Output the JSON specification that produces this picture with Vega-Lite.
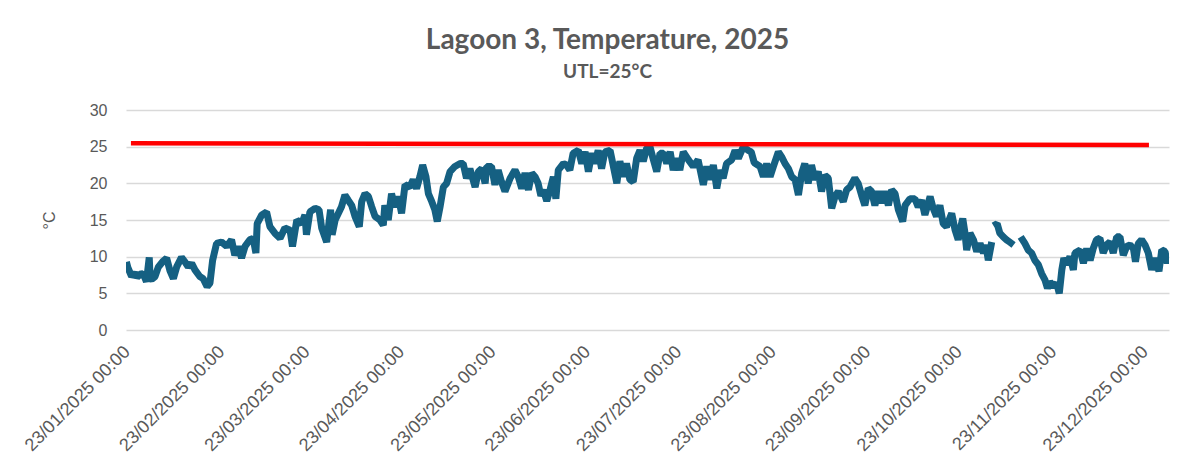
{
"$schema": "https://vega.github.io/schema/vega-lite/v6.json",
"width": 1043,
"height": 220,
"autosize": {"type": "none"},
"padding": {"left": 126, "top": 110, "right": 34, "bottom": 142},
"background": "white",
"config": {"view": {"stroke": null}, "font": "Liberation Sans"},
"title": {"text": "Lagoon 3, Temperature, 2025", "subtitle": "UTL=25°C", "anchor": "middle", "frame": "group", "dx": -40, "offset": 20, "font": "Lato", "fontSize": 28, "fontWeight": "bold", "color": "#595959", "subtitleFont": "Lato", "subtitleFontSize": 19, "subtitleFontWeight": "bold", "subtitleColor": "#595959", "subtitlePadding": 8},
"datasets": {
"temp": [
{"time":"2025-01-21T12:00","temp":9.3,"seg":1},{"time":"2025-01-22T00:00","temp":8.5,"seg":1},{"time":"2025-01-23T05:00","temp":7.3,"seg":1},{"time":"2025-01-24T07:00","temp":7.8,"seg":1},{"time":"2025-01-25T00:00","temp":7.2,"seg":1},{"time":"2025-01-26T00:00","temp":7.6,"seg":1},{"time":"2025-01-27T00:00","temp":7.7,"seg":1},{"time":"2025-01-28T02:00","temp":6.6,"seg":1},{"time":"2025-01-29T00:00","temp":9.9,"seg":1},{"time":"2025-01-29T07:00","temp":7.0,"seg":1},{"time":"2025-01-29T19:00","temp":6.9,"seg":1},{"time":"2025-01-30T22:00","temp":7.3,"seg":1},
{"time":"2025-02-01T00:00","temp":8.6,"seg":1},{"time":"2025-02-02T14:00","temp":9.4,"seg":1},{"time":"2025-02-03T17:00","temp":9.8,"seg":1},{"time":"2025-02-04T19:00","temp":8.1,"seg":1},{"time":"2025-02-05T22:00","temp":7.0,"seg":1},{"time":"2025-02-07T00:00","temp":8.6,"seg":1},{"time":"2025-02-08T14:00","temp":9.9,"seg":1},{"time":"2025-02-09T17:00","temp":9.3,"seg":1},{"time":"2025-02-10T19:00","temp":8.6,"seg":1},{"time":"2025-02-11T22:00","temp":9.1,"seg":1},{"time":"2025-02-13T00:00","temp":8.2,"seg":1},{"time":"2025-02-14T14:00","temp":7.3,"seg":1},{"time":"2025-02-15T17:00","temp":7.0,"seg":1},{"time":"2025-02-17T00:00","temp":5.9,"seg":1},{"time":"2025-02-17T22:00","temp":6.4,"seg":1},{"time":"2025-02-18T19:00","temp":9.5,"seg":1},{"time":"2025-02-20T02:00","temp":11.8,"seg":1},{"time":"2025-02-21T17:00","temp":12.0,"seg":1},{"time":"2025-02-23T10:00","temp":11.4,"seg":1},{"time":"2025-02-25T00:00","temp":12.3,"seg":1},{"time":"2025-02-26T02:00","temp":10.2,"seg":1},{"time":"2025-02-27T05:00","temp":11.4,"seg":1},{"time":"2025-02-28T07:00","temp":9.8,"seg":1},
{"time":"2025-03-01T10:00","temp":11.4,"seg":1},{"time":"2025-03-03T00:00","temp":12.3,"seg":1},{"time":"2025-03-04T02:00","temp":12.5,"seg":1},{"time":"2025-03-05T00:00","temp":10.5,"seg":1},{"time":"2025-03-05T10:00","temp":14.5,"seg":1},{"time":"2025-03-06T22:00","temp":15.7,"seg":1},{"time":"2025-03-08T12:00","temp":16.1,"seg":1},{"time":"2025-03-09T14:00","temp":14.1,"seg":1},{"time":"2025-03-11T05:00","temp":13.2,"seg":1},{"time":"2025-03-12T22:00","temp":12.5,"seg":1},{"time":"2025-03-14T12:00","temp":13.9,"seg":1},{"time":"2025-03-16T05:00","temp":13.6,"seg":1},{"time":"2025-03-17T00:00","temp":11.4,"seg":1},{"time":"2025-03-18T10:00","temp":15.0,"seg":1},{"time":"2025-03-20T00:00","temp":14.5,"seg":1},{"time":"2025-03-21T02:00","temp":15.7,"seg":1},{"time":"2025-03-21T14:00","temp":13.0,"seg":1},{"time":"2025-03-22T17:00","temp":16.1,"seg":1},{"time":"2025-03-24T10:00","temp":16.6,"seg":1},{"time":"2025-03-25T17:00","temp":16.4,"seg":1},{"time":"2025-03-26T14:00","temp":13.9,"seg":1},{"time":"2025-03-28T05:00","temp":12.0,"seg":1},{"time":"2025-03-29T12:00","temp":16.4,"seg":1},{"time":"2025-03-30T00:00","temp":13.0,"seg":1},{"time":"2025-03-31T00:00","temp":15.0,"seg":1},
{"time":"2025-04-02T02:00","temp":16.8,"seg":1},{"time":"2025-04-03T05:00","temp":18.4,"seg":1},{"time":"2025-04-04T07:00","temp":17.7,"seg":1},{"time":"2025-04-05T10:00","temp":17.0,"seg":1},{"time":"2025-04-06T12:00","temp":15.5,"seg":1},{"time":"2025-04-07T22:00","temp":14.1,"seg":1},{"time":"2025-04-08T17:00","temp":17.5,"seg":1},{"time":"2025-04-09T19:00","temp":18.6,"seg":1},{"time":"2025-04-10T22:00","temp":18.2,"seg":1},{"time":"2025-04-12T00:00","temp":16.8,"seg":1},{"time":"2025-04-13T02:00","temp":15.5,"seg":1},{"time":"2025-04-14T17:00","temp":15.0,"seg":1},{"time":"2025-04-15T19:00","temp":14.3,"seg":1},{"time":"2025-04-16T07:00","temp":17.0,"seg":1},{"time":"2025-04-17T10:00","temp":15.0,"seg":1},{"time":"2025-04-18T12:00","temp":18.6,"seg":1},{"time":"2025-04-19T14:00","temp":16.8,"seg":1},{"time":"2025-04-20T17:00","temp":18.2,"seg":1},{"time":"2025-04-21T19:00","temp":15.9,"seg":1},{"time":"2025-04-22T22:00","temp":19.8,"seg":1},{"time":"2025-04-24T12:00","temp":19.5,"seg":1},{"time":"2025-04-25T14:00","temp":20.5,"seg":1},{"time":"2025-04-26T17:00","temp":19.3,"seg":1},{"time":"2025-04-27T19:00","temp":20.9,"seg":1},{"time":"2025-04-28T17:00","temp":22.5,"seg":1},{"time":"2025-04-29T19:00","temp":20.9,"seg":1},{"time":"2025-04-30T14:00","temp":18.6,"seg":1},
{"time":"2025-05-01T17:00","temp":17.5,"seg":1},{"time":"2025-05-02T17:00","temp":16.4,"seg":1},{"time":"2025-05-03T12:00","temp":14.8,"seg":1},{"time":"2025-05-04T10:00","temp":16.8,"seg":1},{"time":"2025-05-05T12:00","temp":19.5,"seg":1},{"time":"2025-05-06T14:00","temp":20.0,"seg":1},{"time":"2025-05-07T17:00","temp":21.6,"seg":1},{"time":"2025-05-09T07:00","temp":22.3,"seg":1},{"time":"2025-05-11T00:00","temp":22.7,"seg":1},{"time":"2025-05-12T00:00","temp":22.7,"seg":1},{"time":"2025-05-13T02:00","temp":20.7,"seg":1},{"time":"2025-05-14T05:00","temp":22.0,"seg":1},{"time":"2025-05-15T22:00","temp":19.5,"seg":1},{"time":"2025-05-17T00:00","temp":21.6,"seg":1},{"time":"2025-05-18T02:00","temp":22.0,"seg":1},{"time":"2025-05-19T05:00","temp":20.0,"seg":1},{"time":"2025-05-19T17:00","temp":22.3,"seg":1},{"time":"2025-05-21T07:00","temp":22.3,"seg":1},{"time":"2025-05-22T10:00","temp":19.8,"seg":1},{"time":"2025-05-23T12:00","temp":21.8,"seg":1},{"time":"2025-05-24T14:00","temp":20.2,"seg":1},{"time":"2025-05-25T17:00","temp":18.9,"seg":1},{"time":"2025-05-27T10:00","temp":20.7,"seg":1},{"time":"2025-05-29T00:00","temp":21.8,"seg":1},{"time":"2025-05-30T02:00","temp":20.9,"seg":1},{"time":"2025-05-31T05:00","temp":19.3,"seg":1},
{"time":"2025-06-01T07:00","temp":21.4,"seg":1},{"time":"2025-06-02T10:00","temp":19.1,"seg":1},{"time":"2025-06-03T12:00","temp":21.4,"seg":1},{"time":"2025-06-04T14:00","temp":20.9,"seg":1},{"time":"2025-06-05T14:00","temp":20.0,"seg":1},{"time":"2025-06-06T12:00","temp":18.3,"seg":1},{"time":"2025-06-07T07:00","temp":19.1,"seg":1},{"time":"2025-06-08T10:00","temp":17.6,"seg":1},{"time":"2025-06-09T12:00","temp":19.1,"seg":1},{"time":"2025-06-10T14:00","temp":20.9,"seg":1},{"time":"2025-06-11T10:00","temp":17.9,"seg":1},{"time":"2025-06-12T05:00","temp":21.8,"seg":1},{"time":"2025-06-13T22:00","temp":22.7,"seg":1},{"time":"2025-06-14T22:00","temp":22.5,"seg":1},{"time":"2025-06-16T00:00","temp":21.8,"seg":1},{"time":"2025-06-17T02:00","temp":24.1,"seg":1},{"time":"2025-06-18T19:00","temp":24.5,"seg":1},{"time":"2025-06-19T22:00","temp":22.7,"seg":1},{"time":"2025-06-21T00:00","temp":24.3,"seg":1},{"time":"2025-06-22T02:00","temp":21.6,"seg":1},{"time":"2025-06-23T05:00","temp":24.1,"seg":1},{"time":"2025-06-24T05:00","temp":22.7,"seg":1},{"time":"2025-06-25T07:00","temp":24.5,"seg":1},{"time":"2025-06-26T10:00","temp":22.0,"seg":1},{"time":"2025-06-27T12:00","temp":24.3,"seg":1},{"time":"2025-06-29T05:00","temp":24.5,"seg":1},{"time":"2025-06-30T07:00","temp":22.3,"seg":1},
{"time":"2025-07-01T10:00","temp":20.0,"seg":1},{"time":"2025-07-02T10:00","temp":23.0,"seg":1},{"time":"2025-07-03T12:00","temp":20.9,"seg":1},{"time":"2025-07-04T14:00","temp":22.7,"seg":1},{"time":"2025-07-05T17:00","temp":20.5,"seg":1},{"time":"2025-07-06T19:00","temp":20.2,"seg":1},{"time":"2025-07-07T22:00","temp":23.4,"seg":1},{"time":"2025-07-09T00:00","temp":24.5,"seg":1},{"time":"2025-07-10T02:00","temp":23.0,"seg":1},{"time":"2025-07-11T05:00","temp":24.8,"seg":1},{"time":"2025-07-12T07:00","temp":25.0,"seg":1},{"time":"2025-07-13T10:00","temp":23.2,"seg":1},{"time":"2025-07-14T12:00","temp":21.6,"seg":1},{"time":"2025-07-15T14:00","temp":24.1,"seg":1},{"time":"2025-07-16T17:00","temp":24.1,"seg":1},{"time":"2025-07-17T19:00","temp":22.7,"seg":1},{"time":"2025-07-18T22:00","temp":24.3,"seg":1},{"time":"2025-07-19T22:00","temp":21.8,"seg":1},{"time":"2025-07-21T00:00","temp":23.4,"seg":1},{"time":"2025-07-22T02:00","temp":21.8,"seg":1},{"time":"2025-07-23T05:00","temp":24.3,"seg":1},{"time":"2025-07-24T22:00","temp":23.2,"seg":1},{"time":"2025-07-26T12:00","temp":22.3,"seg":1},{"time":"2025-07-28T02:00","temp":23.2,"seg":1},{"time":"2025-07-29T19:00","temp":19.8,"seg":1},{"time":"2025-07-30T22:00","temp":22.3,"seg":1},
{"time":"2025-08-01T00:00","temp":20.5,"seg":1},{"time":"2025-08-02T02:00","temp":22.5,"seg":1},{"time":"2025-08-03T05:00","temp":19.3,"seg":1},{"time":"2025-08-04T07:00","temp":21.8,"seg":1},{"time":"2025-08-05T07:00","temp":20.7,"seg":1},{"time":"2025-08-06T10:00","temp":22.7,"seg":1},{"time":"2025-08-08T02:00","temp":23.2,"seg":1},{"time":"2025-08-09T05:00","temp":24.5,"seg":1},{"time":"2025-08-10T07:00","temp":23.4,"seg":1},{"time":"2025-08-11T22:00","temp":25.0,"seg":1},{"time":"2025-08-13T12:00","temp":24.5,"seg":1},{"time":"2025-08-14T12:00","temp":24.3,"seg":1},{"time":"2025-08-15T12:00","temp":22.8,"seg":1},{"time":"2025-08-17T10:00","temp":22.3,"seg":1},{"time":"2025-08-18T12:00","temp":20.9,"seg":1},{"time":"2025-08-19T14:00","temp":22.7,"seg":1},{"time":"2025-08-20T17:00","temp":20.9,"seg":1},{"time":"2025-08-21T19:00","temp":22.3,"seg":1},{"time":"2025-08-23T10:00","temp":24.3,"seg":1},{"time":"2025-08-24T12:00","temp":23.6,"seg":1},{"time":"2025-08-25T14:00","temp":22.7,"seg":1},{"time":"2025-08-26T17:00","temp":22.0,"seg":1},{"time":"2025-08-27T19:00","temp":20.9,"seg":1},{"time":"2025-08-28T22:00","temp":20.5,"seg":1},{"time":"2025-08-30T00:00","temp":18.4,"seg":1},{"time":"2025-08-31T02:00","temp":21.4,"seg":1},
{"time":"2025-09-01T02:00","temp":22.7,"seg":1},{"time":"2025-09-02T05:00","temp":20.0,"seg":1},{"time":"2025-09-03T07:00","temp":22.5,"seg":1},{"time":"2025-09-04T10:00","temp":20.5,"seg":1},{"time":"2025-09-05T12:00","temp":21.6,"seg":1},{"time":"2025-09-06T14:00","temp":18.9,"seg":1},{"time":"2025-09-07T17:00","temp":21.1,"seg":1},{"time":"2025-09-08T19:00","temp":20.7,"seg":1},{"time":"2025-09-09T22:00","temp":16.6,"seg":1},{"time":"2025-09-11T00:00","temp":18.2,"seg":1},{"time":"2025-09-12T02:00","temp":18.9,"seg":1},{"time":"2025-09-13T17:00","temp":17.5,"seg":1},{"time":"2025-09-14T19:00","temp":19.1,"seg":1},{"time":"2025-09-15T22:00","temp":19.5,"seg":1},{"time":"2025-09-17T12:00","temp":20.7,"seg":1},{"time":"2025-09-18T14:00","temp":20.0,"seg":1},{"time":"2025-09-19T17:00","temp":18.4,"seg":1},{"time":"2025-09-20T19:00","temp":17.0,"seg":1},{"time":"2025-09-21T22:00","temp":19.3,"seg":1},{"time":"2025-09-23T00:00","temp":18.9,"seg":1},{"time":"2025-09-24T02:00","temp":17.0,"seg":1},{"time":"2025-09-25T05:00","temp":18.9,"seg":1},{"time":"2025-09-26T07:00","temp":17.3,"seg":1},{"time":"2025-09-27T10:00","temp":18.9,"seg":1},{"time":"2025-09-28T12:00","temp":17.0,"seg":1},{"time":"2025-09-29T14:00","temp":19.1,"seg":1},{"time":"2025-09-30T17:00","temp":18.6,"seg":1},
{"time":"2025-10-01T19:00","temp":16.4,"seg":1},{"time":"2025-10-03T05:00","temp":14.8,"seg":1},{"time":"2025-10-04T00:00","temp":17.0,"seg":1},{"time":"2025-10-05T14:00","temp":17.9,"seg":1},{"time":"2025-10-07T05:00","temp":17.9,"seg":1},{"time":"2025-10-08T07:00","temp":16.8,"seg":1},{"time":"2025-10-09T10:00","temp":17.7,"seg":1},{"time":"2025-10-10T12:00","temp":15.7,"seg":1},{"time":"2025-10-12T05:00","temp":18.2,"seg":1},{"time":"2025-10-13T05:00","temp":16.6,"seg":1},{"time":"2025-10-14T07:00","temp":15.5,"seg":1},{"time":"2025-10-15T10:00","temp":17.0,"seg":1},{"time":"2025-10-16T12:00","temp":14.5,"seg":1},{"time":"2025-10-17T14:00","temp":14.1,"seg":1},{"time":"2025-10-19T07:00","temp":15.9,"seg":1},{"time":"2025-10-20T10:00","temp":13.6,"seg":1},{"time":"2025-10-21T10:00","temp":12.3,"seg":1},{"time":"2025-10-22T00:00","temp":13.6,"seg":1},{"time":"2025-10-22T22:00","temp":15.2,"seg":1},{"time":"2025-10-23T14:00","temp":13.4,"seg":1},{"time":"2025-10-24T05:00","temp":10.9,"seg":1},{"time":"2025-10-25T07:00","temp":13.2,"seg":1},{"time":"2025-10-26T10:00","temp":12.3,"seg":1},{"time":"2025-10-27T12:00","temp":10.7,"seg":1},{"time":"2025-10-28T14:00","temp":11.8,"seg":1},{"time":"2025-10-29T17:00","temp":10.5,"seg":1},{"time":"2025-10-30T12:00","temp":11.6,"seg":1},{"time":"2025-10-31T07:00","temp":9.5,"seg":1},{"time":"2025-11-01T10:00","temp":12.0,"seg":1},
{"time":"2025-11-02T00:00","temp":14.2,"seg":2},{"time":"2025-11-03T05:00","temp":14.5,"seg":2},{"time":"2025-11-04T02:00","temp":13.2,"seg":2},{"time":"2025-11-05T05:00","temp":12.7,"seg":2},{"time":"2025-11-06T07:00","temp":12.3,"seg":2},{"time":"2025-11-07T07:00","temp":12.0,"seg":2},{"time":"2025-11-08T14:00","temp":11.6,"seg":2},
{"time":"2025-11-10T22:00","temp":12.7,"seg":3},{"time":"2025-11-12T07:00","temp":11.8,"seg":3},{"time":"2025-11-13T10:00","temp":10.9,"seg":3},{"time":"2025-11-14T12:00","temp":10.5,"seg":3},{"time":"2025-11-15T14:00","temp":9.5,"seg":3},{"time":"2025-11-16T17:00","temp":8.9,"seg":3},{"time":"2025-11-17T19:00","temp":7.7,"seg":3},{"time":"2025-11-18T22:00","temp":6.8,"seg":3},{"time":"2025-11-19T17:00","temp":5.7,"seg":3},{"time":"2025-11-20T12:00","temp":6.6,"seg":3},{"time":"2025-11-21T14:00","temp":5.9,"seg":3},{"time":"2025-11-22T17:00","temp":6.4,"seg":3},{"time":"2025-11-23T14:00","temp":5.0,"seg":3},{"time":"2025-11-24T10:00","temp":8.2,"seg":3},{"time":"2025-11-25T02:00","temp":9.8,"seg":3},{"time":"2025-11-26T00:00","temp":8.9,"seg":3},{"time":"2025-11-27T02:00","temp":10.0,"seg":3},{"time":"2025-11-28T05:00","temp":8.2,"seg":3},{"time":"2025-11-28T17:00","temp":10.5,"seg":3},{"time":"2025-11-30T10:00","temp":10.9,"seg":3},
{"time":"2025-12-01T12:00","temp":9.1,"seg":3},{"time":"2025-12-02T14:00","temp":11.1,"seg":3},{"time":"2025-12-03T17:00","temp":9.5,"seg":3},{"time":"2025-12-04T17:00","temp":11.1,"seg":3},{"time":"2025-12-05T19:00","temp":12.3,"seg":3},{"time":"2025-12-06T22:00","temp":12.5,"seg":3},{"time":"2025-12-08T00:00","temp":10.5,"seg":3},{"time":"2025-12-09T02:00","temp":11.6,"seg":3},{"time":"2025-12-10T05:00","temp":12.0,"seg":3},{"time":"2025-12-11T07:00","temp":10.5,"seg":3},{"time":"2025-12-12T10:00","temp":12.7,"seg":3},{"time":"2025-12-13T12:00","temp":12.7,"seg":3},{"time":"2025-12-14T14:00","temp":10.2,"seg":3},{"time":"2025-12-15T17:00","temp":11.4,"seg":3},{"time":"2025-12-16T19:00","temp":11.6,"seg":3},{"time":"2025-12-17T22:00","temp":11.1,"seg":3},{"time":"2025-12-18T14:00","temp":9.3,"seg":3},{"time":"2025-12-19T12:00","temp":11.8,"seg":3},{"time":"2025-12-20T14:00","temp":12.3,"seg":3},{"time":"2025-12-21T17:00","temp":11.6,"seg":3},{"time":"2025-12-22T19:00","temp":10.5,"seg":3},{"time":"2025-12-23T22:00","temp":8.2,"seg":3},{"time":"2025-12-25T00:00","temp":9.8,"seg":3},{"time":"2025-12-26T07:00","temp":8.0,"seg":3},{"time":"2025-12-27T05:00","temp":10.9,"seg":3},{"time":"2025-12-28T07:00","temp":10.7,"seg":3},{"time":"2025-12-29T00:00","temp":9.1,"seg":3},{"time":"2025-12-29T13:00","temp":10.2,"seg":3}
],
"utl": [
{"time":"2025-01-23T00:00","temp":25.45},{"time":"2025-12-23T00:00","temp":25.23}
]
},
"encoding": {
"x": {"field": "time", "type": "temporal",
"scale": {"domain": [{"year":2025,"month":1,"date":21,"hours":9},{"year":2025,"month":12,"date":29,"hours":14}]},
"axis": {"values": [{"year":2025,"month":1,"date":23},{"year":2025,"month":2,"date":23},{"year":2025,"month":3,"date":23},{"year":2025,"month":4,"date":23},{"year":2025,"month":5,"date":23},{"year":2025,"month":6,"date":23},{"year":2025,"month":7,"date":23},{"year":2025,"month":8,"date":23},{"year":2025,"month":9,"date":23},{"year":2025,"month":10,"date":23},{"year":2025,"month":11,"date":23},{"year":2025,"month":12,"date":23}],
"format": "%d/%m/%Y %H:%M", "labelAngle": -45, "labelAlign": "right", "labelBaseline": "middle", "labelFontSize": 18, "labelColor": "#595959", "labelFont": "Liberation Sans", "labelPadding": 19, "labelOffset": -4, "labelOverlap": false, "labelFlush": false, "labelBound": false, "grid": false, "domain": false, "ticks": false, "title": null}},
"y": {"field": "temp", "type": "quantitative",
"scale": {"domain": [0, 30], "nice": false},
"axis": {"values": [0,5,10,15,20,25,30], "labelFontSize": 16, "labelColor": "#595959", "labelFont": "Liberation Sans", "labelPadding": 19, "labelOverlap": false, "labelBound": false, "title": "°C", "titleFontSize": 16, "titleFontWeight": "normal", "titleColor": "#595959", "titleFont": "Liberation Sans", "titlePadding": 32, "grid": true, "gridColor": "#d9d9d9", "gridWidth": 1.3, "domain": false, "ticks": false}}
},
"layer": [
{
"data": {"name": "temp"},
"mark": {"type": "line", "color": "#156082", "strokeWidth": 7, "strokeJoin": "bevel", "clip": true},
"encoding": {"detail": {"field": "seg", "type": "nominal"}}
},
{
"data": {"name": "utl"},
"mark": {"type": "line", "color": "#ff0000", "strokeWidth": 4.5},
"encoding": {}
}
]
}
